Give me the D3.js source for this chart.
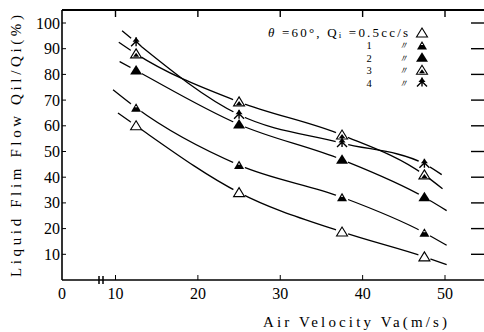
<!DOCTYPE html>
<html>
<head>
<meta charset="utf-8">
<script src="https://cdn.jsdelivr.net/npm/d3@7"></script>
<style>
  body { margin: 0; background: #fff; }
  svg { display: block; }
  .ax { stroke: #000; fill: none; }
  .tick-label { font-family: "Liberation Serif", serif; font-size: 16px; fill: #000; }
  .title { font-family: "Liberation Serif", serif; font-size: 15px; fill: #000; }
  .leg { font-family: "Liberation Serif", serif; font-size: 10.5px; fill: #000; }
  .leg1 { font-family: "Liberation Serif", serif; font-size: 13px; fill: #000; }
</style>
</head>
<body>
<div id="chart"></div>
<script>
// air velocity where the measurements were taken (m/s)
const velocity = [12.5, 25, 37.5, 47.5];
// liquid feed Qi (cc/s) of each curve
const feedLabels = ["0.5", "1", "2", "3", "4"];
// Qil/Qi (%) for each feed
const q05 = [60, 34, 18.7, 9];
const q1 = [67, 44.7, 32.2, 18.4];
const q2 = [81.5, 60.5, 46.8, 32.2];
const q3 = [88, 69.3, 56.4, 40.9];
const q4 = [92.5, 64.3, 53.3, 45.2];
// where each hand drawn curve starts and stops [velocity, %]
const lineStart = [[10.3, 65], [9.7, 74], [10.5, 85], [10.4, 92.5], [10.8, 97]];
const lineEnd = [[50.2, 6], [50.2, 13.5], [50.2, 27], [49.7, 35.5], [49.6, 41]];
const xTicks = [10, 20, 30, 40, 50];
const yTicks = [10, 20, 30, 40, 50, 60, 70, 80, 90, 100];

const series = [q05, q1, q2, q3, q4];

const W = 484, H = 332;
const svg = d3.select("#chart").append("svg").attr("width", W).attr("height", H);

const x = d3.scaleLinear().domain([10, 50]).range([115.5, 445]);
const y = d3.scaleLinear().domain([0, 100]).range([280, 23]);
const x0 = 62, xRight = 485, yTop = 10, yBottom = y(0);

// frame
const frame = svg.append("g").attr("class", "ax");
frame.append("line").attr("x1", x0).attr("x2", x0).attr("y1", yTop).attr("y2", yBottom).attr("stroke-width", 1.6);
frame.append("line").attr("x1", x0).attr("x2", W).attr("y1", yBottom).attr("y2", yBottom).attr("stroke-width", 1.6);
frame.append("line").attr("x1", x0).attr("x2", W).attr("y1", yTop).attr("y2", yTop).attr("stroke-width", 2);
frame.append("line").attr("x1", xRight).attr("x2", xRight).attr("y1", yTop).attr("y2", yBottom).attr("stroke-width", 2);

// axis break on x
[99, 103].forEach(bx => {
  frame.append("line").attr("x1", bx).attr("x2", bx).attr("y1", yBottom - 4).attr("y2", yBottom + 4).attr("stroke-width", 1.5);
});

// ticks
yTicks.forEach(t => {
  frame.append("line").attr("x1", x0).attr("x2", x0 + 4).attr("y1", y(t)).attr("y2", y(t));
  frame.append("line").attr("x1", xRight).attr("x2", xRight - 14).attr("y1", y(t)).attr("y2", y(t)).attr("stroke-width", 1.4);
  svg.append("text").attr("class", "tick-label")
    .attr("x", x0 - 2).attr("y", y(t) + 5.5)
    .attr("text-anchor", "end").text(t);
});
xTicks.forEach(t => {
  frame.append("line").attr("x1", x(t)).attr("x2", x(t)).attr("y1", yBottom).attr("y2", yBottom - 5);
  frame.append("line").attr("x1", x(t)).attr("x2", x(t)).attr("y1", yTop).attr("y2", yTop + 7).attr("stroke-width", 1.4);
  svg.append("text").attr("class", "tick-label")
    .attr("x", x(t)).attr("y", yBottom + 19)
    .attr("text-anchor", "middle").text(t);
});
svg.append("text").attr("class", "tick-label")
  .attr("x", x0).attr("y", yBottom + 19).attr("text-anchor", "middle").text("0");

// titles
svg.append("text").attr("class", "title")
  .attr("transform", "translate(21,146) rotate(-90)")
  .attr("text-anchor", "middle")
  .attr("textLength", 262).attr("lengthAdjust", "spacing")
  .text("Liquid Flim Flow  Qil/Qi(%)");
svg.append("text").attr("class", "title")
  .attr("x", 355).attr("y", 327)
  .attr("text-anchor", "middle")
  .attr("textLength", 184).attr("lengthAdjust", "spacing")
  .text("Air Velocity Va(m/s)");

// curves
const line = d3.line().x(d => x(d[0])).y(d => y(d[1])).curve(d3.curveMonotoneX);
series.forEach((vals, i) => {
  const pts = [lineStart[i], ...velocity.map((v, k) => [v, vals[k]]), lineEnd[i]];
  svg.append("path").attr("d", line(pts))
    .attr("fill", "none").attr("stroke", "#000").attr("stroke-width", 1.3);
});

// markers
function marker(g, i) {
  const tri = "M0,-5L5.5,4L-5.5,4Z";
  if (i === 0) {
    g.append("path").attr("d", tri).attr("fill", "#fff").attr("stroke", "#000").attr("stroke-width", 1.1);
  } else if (i === 1) {
    g.append("path").attr("d", "M0,-4.5L5,4L-5,4Z").attr("fill", "#000");
    g.append("line").attr("x1", -1).attr("x2", 1).attr("y1", -1).attr("y2", -1).attr("stroke", "#fff");
  } else if (i === 2) {
    g.append("path").attr("d", "M0,-5.5L6,4L-6,4Z").attr("fill", "#000");
  } else if (i === 3) {
    g.append("path").attr("d", tri).attr("fill", "#fff").attr("stroke", "#000").attr("stroke-width", 1.1);
    g.append("path").attr("d", "M0,-1L3,3L-3,3Z").attr("fill", "#000");
  } else {
    g.append("path").attr("d", "M0,-5L3.5,-0.5L-3.5,-0.5Z").attr("fill", "#000");
    g.append("path").attr("d", "M0,-5V4M-5,4L0,-1L5,4").attr("fill", "none").attr("stroke", "#000").attr("stroke-width", 1.4);
  }
}

series.forEach((vals, i) => {
  vals.forEach((v, k) => {
    const g = svg.append("g").attr("transform", `translate(${x(velocity[k])},${y(v)})`);
    g.append("circle").attr("r", 6.5).attr("fill", "#fff");
  });
});
series.forEach((vals, i) => {
  vals.forEach((v, k) => {
    const g = svg.append("g").attr("transform", `translate(${x(velocity[k])},${y(v)})`);
    marker(g, i);
  });
});

// legend
const leg = svg.append("g");
const first = leg.append("text").attr("class", "leg1").attr("x", 268).attr("y", 36.5)
  .attr("textLength", 140).attr("lengthAdjust", "spacing");
first.append("tspan").attr("font-style", "italic").text("θ");
first.append("tspan").text(" =60°, Q");
first.append("tspan").attr("font-size", 9).attr("dy", 1).text("i");
first.append("tspan").attr("dy", -1).text(" =0.5cc/s");
feedLabels.forEach((f, i) => {
  const ry = 33 + i * 12.4;
  if (i > 0) {
    leg.append("text").attr("class", "leg").attr("x", 369).attr("y", ry + 4).attr("text-anchor", "middle").text(f);
    leg.append("text").attr("class", "leg").attr("x", 403).attr("y", ry + 4).attr("text-anchor", "middle")
      .attr("font-style", "italic").text("\u3003");
  }
  marker(leg.append("g").attr("transform", `translate(422,${ry})`), i);
});
</script>
</body>
</html>
